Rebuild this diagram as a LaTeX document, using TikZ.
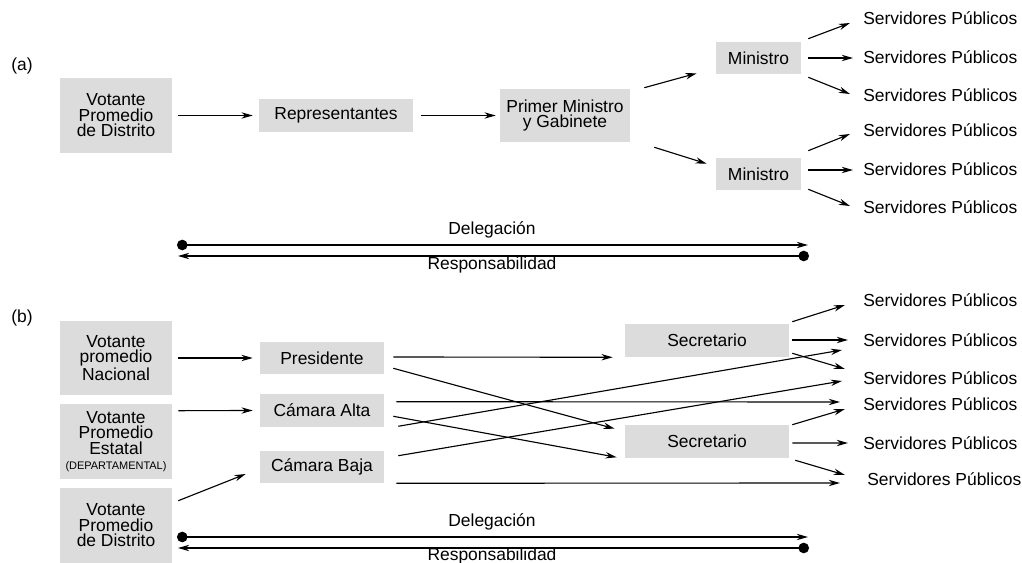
\documentclass[tikz,border=0pt]{standalone}
\usepackage{fontspec}
\setmainfont{Liberation Sans}
\usetikzlibrary{arrows.meta}
\definecolor{boxgray}{RGB}{220,220,220}

\begin{document}
\begin{tikzpicture}[x=.025cm, y=-.025cm, font=\fontsize{12.4}{11}\selectfont,
 >={Stealth[length=8pt,width=4.5pt]},
 box/.style={fill=boxgray, align=center, inner sep=0pt},
 serv/.style={anchor=west, inner sep=0pt},
 edge/.style={->, line width=.8pt},
 pair/.style={{Circle[length=7.5pt]}-{Stealth[length=8pt,width=4.5pt]}, line width=.8pt}]
\useasboundingbox (0,0) rectangle (1022,563);

% (a)
\node (lblA) at (22,66) {(a)};
\node[box, minimum width=2.8cm, minimum height=1.875cm] (votA) at (116,115.5) {Votante\\Promedio\\de Distrito};
\node[box, minimum width=3.85cm, minimum height=.825cm] (rep) at (336,115.5) {Representantes};
\node[box, minimum width=3.25cm, minimum height=1.325cm] (pm) at (565,115.5) {Primer Ministro\\y Gabinete};
\node[box, minimum width=2.125cm, minimum height=.8cm] (minA) at (758.5,58) {Ministro};
\node[box, minimum width=2.125cm, minimum height=.8cm] (minB) at (758.5,174) {Ministro};
\node[serv] (spA1) at (863,18) {Servidores Públicos};
\node[serv] (spA2) at (863,57) {Servidores Públicos};
\node[serv] (spA3) at (863,95) {Servidores Públicos};
\node[serv] (spA4) at (863,130) {Servidores Públicos};
\node[serv] (spA5) at (863,169) {Servidores Públicos};
\node[serv] (spA6) at (863,207) {Servidores Públicos};
\draw[edge] ([shift={(6,0)}]votA.east) -- ([shift={(-6,0)}]rep.west);
\draw[edge] ([shift={(8,0)}]rep.east) -- ([shift={(-4,0)}]pm.west);
\draw[edge] ([shift={(14,-1)}]pm.north east) -- ([shift={(-19,-1)}]minA.south west);
\draw[edge] ([shift={(24,5)}]pm.south east) -- ([shift={(-9,6)}]minB.north west);
\draw[edge] ([shift={(7,-3)}]minA.north east) -- ([shift={(-13,5)}]spA1.west);
\draw[edge] ([shift={(7,0)}]minA.east) -- ([shift={(-10,1)}]spA2.west);
\draw[edge] ([shift={(7,3)}]minA.south east) -- ([shift={(-13,-1)}]spA3.west);
\draw[edge] ([shift={(7,-7)}]minB.north east) -- ([shift={(-13,4)}]spA4.west);
\draw[edge] ([shift={(7,-4)}]minB.east) -- ([shift={(-10,1)}]spA5.west);
\draw[edge] ([shift={(7,-1)}]minB.south east) -- ([shift={(-13,-1)}]spA6.west);
\coordinate (delA1) at (177,245);
\coordinate (delA2) at (808,245);
\coordinate (resA1) at (809,256);
\coordinate (resA2) at (178,256);
\draw[pair] (delA1) -- (delA2);
\draw[pair] (resA1) -- (resA2);
\node (lblDelA) at (492,230) {Delegación};
\node (lblResA) at (492,265) {Responsabilidad};

% (b)
\node (lblB) at (22,318) {(b)};
\node[box, minimum width=2.8cm, minimum height=1.85cm] (votN) at (116,358) {Votante\\promedio\\Nacional};
\node[box, minimum width=2.8cm, minimum height=1.875cm] (votE) at (116,441.5) {Votante\\Promedio\\Estatal\\{\fontsize{7.8}{7}\selectfont(DEPARTAMENTAL)}};
\node[box, minimum width=2.8cm, minimum height=1.875cm] (votD) at (116,525.5) {Votante\\Promedio\\de Distrito};
\node[box, minimum width=3.1cm, minimum height=.8cm] (pres) at (322,358) {Presidente};
\node[box, minimum width=3.1cm, minimum height=.825cm] (alta) at (322,410.5) {Cámara Alta};
\node[box, minimum width=3.1cm, minimum height=.8cm] (baja) at (322,467) {Cámara Baja};
\node[box, minimum width=4.1cm, minimum height=.825cm] (secA) at (707,340.5) {Secretario};
\node[box, minimum width=4.1cm, minimum height=.825cm] (secB) at (707,441.5) {Secretario};
\node[serv] (spB1) at (863,300) {Servidores Públicos};
\node[serv] (spB2) at (863,340) {Servidores Públicos};
\node[serv] (spB3) at (863,378) {Servidores Públicos};
\node[serv] (spB4) at (863,404) {Servidores Públicos};
\node[serv] (spB5) at (863,443) {Servidores Públicos};
\node[serv] (spB6) at (867,479) {Servidores Públicos};
\draw[edge] ([shift={(6,0)}]votN.east) -- ([shift={(-7,0)}]pres.west);
\draw[edge] ([shift={(6,7)}]votE.north east) -- ([shift={(-7,0)}]alta.west);
\draw[edge] ([shift={(6,13)}]votD.north east) -- ([shift={(-14,7)}]baja.west);
\draw[edge] ([shift={(9,-1)}]pres.east) -- ([shift={(-12,0)}]secA.south west);
\draw[edge] ([shift={(9,-6)}]pres.south east) -- ([shift={(-10,4)}]secB.north west);
\draw[edge] ([shift={(12,8)}]alta.north east) -- ([shift={(-23,-2)}]spB4.west);
\draw[edge] ([shift={(9,-11)}]alta.south east) -- ([shift={(-8,-1)}]secB.south west);
\draw[edge] ([shift={(14,-1)}]alta.south east) -- ([shift={(-21,10)}]spB2.west);
\draw[edge] ([shift={(14,5)}]baja.north east) -- ([shift={(-21,3)}]spB3.west);
\draw[edge] ([shift={(12,0)}]baja.south east) -- ([shift={(-27,4)}]spB6.west);
\draw[edge] ([shift={(3,-2)}]secA.north east) -- ([shift={(-18,5)}]spB1.west);
\draw[edge] ([shift={(3,-.5)}]secA.east) -- ([shift={(-15,0)}]spB2.west);
\draw[edge] ([shift={(3,-4)}]secA.south east) -- ([shift={(-18,-9)}]spB3.west);
\draw[edge] ([shift={(3,0)}]secB.north east) -- ([shift={(-18,5)}]spB4.west);
\draw[edge] ([shift={(3,1.5)}]secB.east) -- ([shift={(-15,0)}]spB5.west);
\draw[edge] ([shift={(6,2)}]secB.south east) -- ([shift={(-22,-4)}]spB6.west);
\coordinate (delB1) at (177,537);
\coordinate (delB2) at (808,537);
\coordinate (resB1) at (809,548);
\coordinate (resB2) at (178,548);
\draw[pair] (delB1) -- (delB2);
\draw[pair] (resB1) -- (resB2);
\node (lblDelB) at (492,522) {Delegación};
\node (lblResB) at (492,556) {Responsabilidad};
\end{tikzpicture}
\end{document}
